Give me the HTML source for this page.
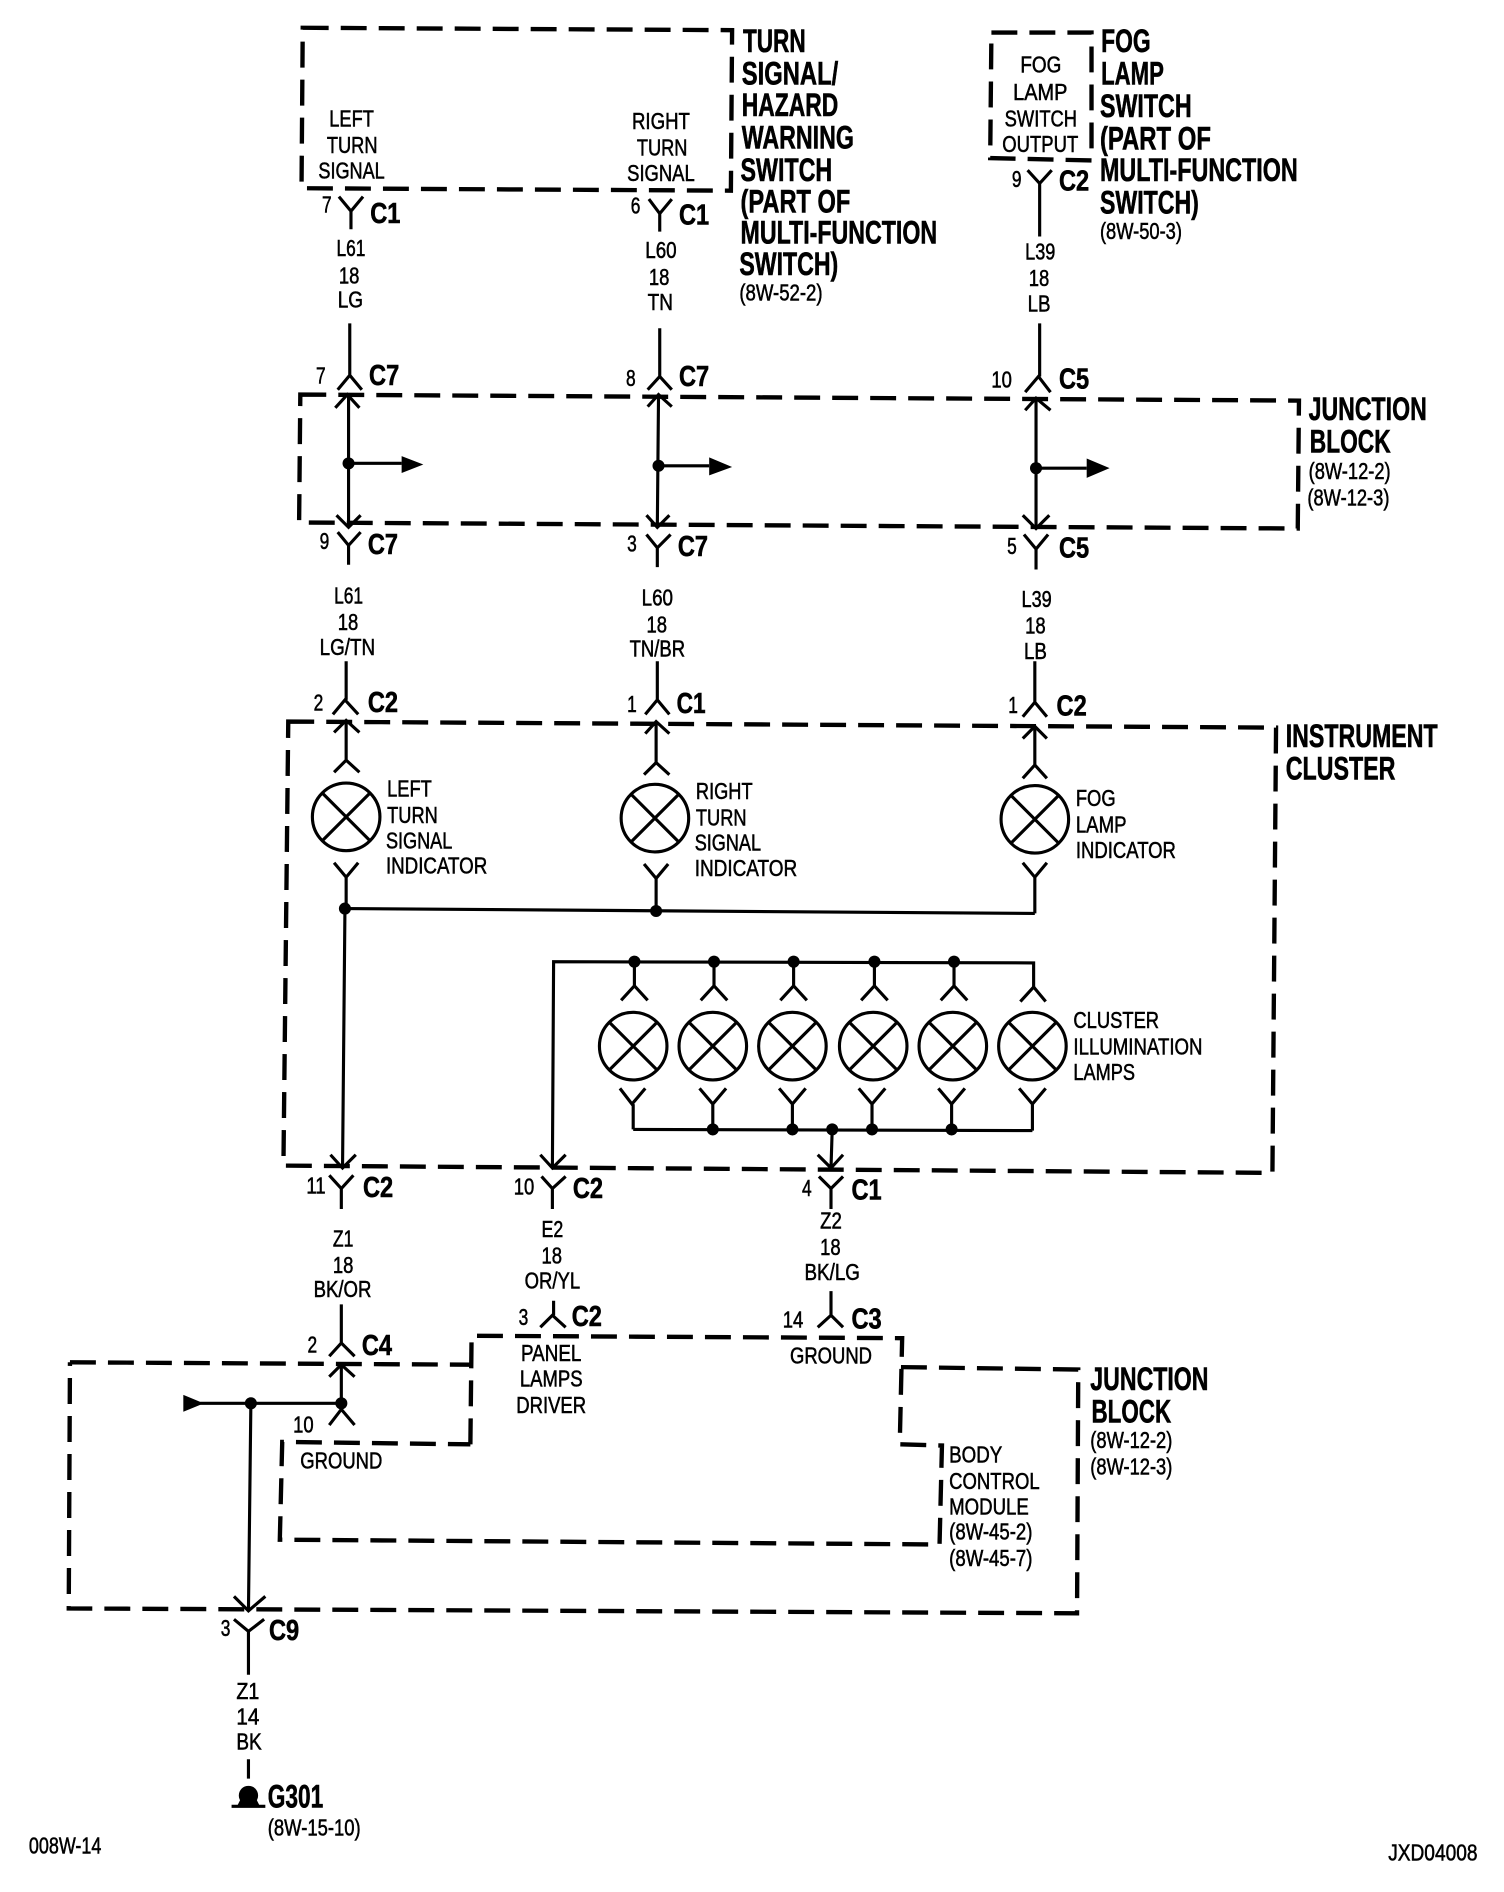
<!DOCTYPE html>
<html><head><meta charset="utf-8"><title>Wiring diagram</title>
<style>
html,body{margin:0;padding:0;background:#fff}
svg{display:block}
text{font-family:"Liberation Sans",sans-serif;fill:#000}
.s{font-size:19px;stroke:#000;stroke-width:.45px}
.b{font-size:27px;font-weight:700;stroke:#000;stroke-width:.5px}
.c{font-size:24px;font-weight:700;stroke:#000;stroke-width:.5px}
.d{fill:none;stroke:#000;stroke-width:3.6;stroke-dasharray:21.5 10}
.w{fill:none;stroke:#000;stroke-width:2.6}
</style></head><body>
<svg xmlns="http://www.w3.org/2000/svg" width="1504" height="1892" viewBox="-1 0 1247 1568" preserveAspectRatio="none">
<rect x="-1" y="0" width="1247" height="1568" fill="#fff"/>
<!-- dashed boxes -->
<path class="d" d="M250,23 L606,25 L605,158 L249,156 Z"/>
<path class="d" d="M821,27 L904,27 L904,133 L820,131 Z"/>
<path class="d" d="M248,327 L1076,332 L1075,438 L247,433 Z"/>
<path class="d" d="M238,598 L1057,603 L1054,972 L234,966 Z"/>
<path class="d" d="M57,1129 L389,1131"/>
<path class="d" d="M389,1197 L390,1107 L747,1109 L745,1197 L780,1198 L778,1280 L231,1276 L233,1195 L389,1197"/>
<path class="d" d="M746,1133 L893,1135 L892,1337 L56,1333 L57,1129"/>
<!-- wires -->
<g class="w">
<path d="M280,163 L290,175 L300,163 M290,175 V190 M289,268 V311 M279,323 L289,311 L299,323"/>
<path d="M277,338 L287,327 L297,338 M288,327 V437 M278,427 L288,437 L298,427 M288,384 H332"/>
<path d="M279,441 L288,452 L298,441 M288,452 V468 M286,548 V580 M275,592 L285,580 L296,592"/>
<path d="M276,607 L286,597 L297,607 M286,597 V630 M276,640 L286,630 L297,640"/>
<path d="M276,715 L286,727 L296,715 M286,727 V753 M285,753 L283,968 M273,957 L283,968 L294,957"/>
<path d="M272,974 L282,985 L292,974 M282,985 V1002 M282,1081 V1113 M272,1124 L282,1113 L293,1124"/>
<path d="M272,1141 L282,1131 L293,1141 M282,1131 V1168 M272,1181 L282,1168 L293,1181 M165,1163 H282 M207,1163 L205,1335 M193,1323 L205,1335 L219,1323"/>
<path d="M193,1342 L205,1352 L218,1342 M205,1352 V1388 M205,1458 V1474"/>
<path d="M537,165 L546,177 L556,165 M546,177 V192 M546,272 V312 M536,323 L546,312 L556,323"/>
<path d="M536,337 L545,327 L556,337 M545,327 L544,437 M535,427 L544,437 L554,427 M545,386 H587"/>
<path d="M535,443 L544,454 L555,443 M544,454 V470 M544,548 V580 M534,592 L544,580 L554,592"/>
<path d="M534,608 L543,598 L554,608 M543,598 V632 M533,642 L543,632 L554,642"/>
<path d="M533,716 L543,728 L553,716 M543,728 V755"/>
<path d="M851,141 L861,152 L871,141 M861,152 V196 M861,268 V312 M849,325 L860,312 L870,325"/>
<path d="M849,340 L858,330 L870,340 M858,330 V438 M847,427 L858,438 L869,427 M858,388 H900"/>
<path d="M848,443 L858,455 L868,443 M858,455 V472 M857,548 V582 M847,594 L857,582 L867,594"/>
<path d="M847,612 L857,602 L867,612 M857,602 V634 M847,645 L857,634 L867,645"/>
<path d="M847,715 L857,727 L867,715 M857,727 V757 M285,753 L857,757"/>
<path d="M856,818 V798 L458,797 L457,968 M447,957 L457,968 L468,957 M448,975 L457,985 L468,975 M457,985 V1002"/>
<path d="M525,797 V817 M514,829 L525,817 L536,829 M591,797 V817 M580,829 L591,817 L602,829 M657,797 V817 M646,829 L657,817 L668,829 M724,797 V817 M713,829 L724,817 L735,829 M790,797 V817 M779,829 L790,817 L801,829 M845,830 L856,818 L866,830"/>
<path d="M513,902 L523,915 L534,902 M524,915 V936 M579,902 L590,915 L601,902 M590,915 V936 M645,902 L656,915 L667,902 M656,915 V936 M711,902 L722,915 L733,902 M722,915 V936 M777,902 L788,915 L799,902 M788,915 V936 M844,902 L855,915 L866,902 M855,915 V937 M524,936 L855,937"/>
<path d="M689,936 L688,968 M677,957 L688,968 L698,957 M678,975 L688,985 L698,975 M688,985 V1002"/>
<path d="M458,1078 V1090 M447,1100 L457,1090 L468,1100 M688,1070 V1090 M677,1100 L688,1090 L698,1100"/>
<path d="M191,1497 H219"/>
</g>
<!-- lamps -->
<g class="w">
<circle cx="286" cy="677" r="28"/><path d="M266,657 L306,697 M306,657 L266,697"/>
<circle cx="542" cy="678" r="28"/><path d="M522,658 L562,698 M562,658 L522,698"/>
<circle cx="857" cy="679" r="28"/><path d="M837,659 L877,699 M877,659 L837,699"/>
<circle cx="524" cy="867" r="28"/><path d="M504,847 L544,887 M544,847 L504,887"/>
<circle cx="590" cy="867" r="28"/><path d="M570,847 L610,887 M610,847 L570,887"/>
<circle cx="656" cy="867" r="28"/><path d="M636,847 L676,887 M676,847 L636,887"/>
<circle cx="723" cy="867" r="28"/><path d="M703,847 L743,887 M743,847 L703,887"/>
<circle cx="789" cy="867" r="28"/><path d="M769,847 L809,887 M809,847 L769,887"/>
<circle cx="855" cy="867" r="28"/><path d="M835,847 L875,887 M875,847 L835,887"/>
</g>
<!-- dots and arrowheads -->
<g fill="#000">
<circle cx="288" cy="384" r="5"/><circle cx="545" cy="386" r="5"/><circle cx="858" cy="388" r="5"/>
<path d="M332,378 L350,385 L332,392 Z M587,379 L606,387 L587,394 Z M900,380 L919,388 L900,396 Z M151,1156 L168,1163 L151,1170 Z"/>
<circle cx="285" cy="753" r="5"/><circle cx="543" cy="755" r="5"/>
<circle cx="525" cy="797" r="5"/><circle cx="591" cy="797" r="5"/><circle cx="657" cy="797" r="5"/><circle cx="724" cy="797" r="5"/><circle cx="790" cy="797" r="5"/>
<circle cx="590" cy="936" r="5"/><circle cx="656" cy="936" r="5"/><circle cx="689" cy="936" r="5"/><circle cx="722" cy="936" r="5"/><circle cx="788" cy="936" r="5"/>
<circle cx="207" cy="1163" r="5"/><circle cx="282" cy="1163" r="5"/>
<circle cx="205" cy="1488" r="8"/><path d="M199,1490 H211 L214,1496 H196 Z"/>
</g>
<!-- headings -->
<g class="b">
<text x="615" y="43" textLength="52" lengthAdjust="spacingAndGlyphs">TURN</text>
<text x="614" y="70" textLength="80" lengthAdjust="spacingAndGlyphs">SIGNAL/</text>
<text x="614" y="96" textLength="80" lengthAdjust="spacingAndGlyphs">HAZARD</text>
<text x="614" y="123" textLength="93" lengthAdjust="spacingAndGlyphs">WARNING</text>
<text x="613" y="150" textLength="76" lengthAdjust="spacingAndGlyphs">SWITCH</text>
<text x="613" y="176" textLength="91" lengthAdjust="spacingAndGlyphs">(PART OF</text>
<text x="613" y="202" textLength="163" lengthAdjust="spacingAndGlyphs">MULTI-FUNCTION</text>
<text x="612" y="228" textLength="82" lengthAdjust="spacingAndGlyphs">SWITCH)</text>
<text x="912" y="43" textLength="41" lengthAdjust="spacingAndGlyphs">FOG</text>
<text x="912" y="70" textLength="52" lengthAdjust="spacingAndGlyphs">LAMP</text>
<text x="911" y="97" textLength="76" lengthAdjust="spacingAndGlyphs">SWITCH</text>
<text x="911" y="124" textLength="92" lengthAdjust="spacingAndGlyphs">(PART OF</text>
<text x="911" y="150" textLength="164" lengthAdjust="spacingAndGlyphs">MULTI-FUNCTION</text>
<text x="911" y="177" textLength="82" lengthAdjust="spacingAndGlyphs">SWITCH)</text>
<text x="1084" y="348" textLength="98" lengthAdjust="spacingAndGlyphs">JUNCTION</text>
<text x="1085" y="375" textLength="67" lengthAdjust="spacingAndGlyphs">BLOCK</text>
<text x="1065" y="619" textLength="126" lengthAdjust="spacingAndGlyphs">INSTRUMENT</text>
<text x="1065" y="646" textLength="91" lengthAdjust="spacingAndGlyphs">CLUSTER</text>
<text x="903" y="1152" textLength="98" lengthAdjust="spacingAndGlyphs">JUNCTION</text>
<text x="904" y="1179" textLength="66" lengthAdjust="spacingAndGlyphs">BLOCK</text>
<text x="221" y="1498" textLength="46" lengthAdjust="spacingAndGlyphs">G301</text>
</g>
<!-- connector ids -->
<g class="c">
<text x="306" y="185" textLength="25" lengthAdjust="spacingAndGlyphs">C1</text>
<text x="562" y="186" textLength="25" lengthAdjust="spacingAndGlyphs">C1</text>
<text x="877" y="158" textLength="25" lengthAdjust="spacingAndGlyphs">C2</text>
<text x="305" y="319" textLength="25" lengthAdjust="spacingAndGlyphs">C7</text>
<text x="562" y="320" textLength="25" lengthAdjust="spacingAndGlyphs">C7</text>
<text x="877" y="322" textLength="25" lengthAdjust="spacingAndGlyphs">C5</text>
<text x="304" y="459" textLength="25" lengthAdjust="spacingAndGlyphs">C7</text>
<text x="561" y="461" textLength="25" lengthAdjust="spacingAndGlyphs">C7</text>
<text x="877" y="462" textLength="25" lengthAdjust="spacingAndGlyphs">C5</text>
<text x="304" y="590" textLength="25" lengthAdjust="spacingAndGlyphs">C2</text>
<text x="560" y="591" textLength="24" lengthAdjust="spacingAndGlyphs">C1</text>
<text x="875" y="593" textLength="25" lengthAdjust="spacingAndGlyphs">C2</text>
<text x="300" y="992" textLength="25" lengthAdjust="spacingAndGlyphs">C2</text>
<text x="474" y="993" textLength="25" lengthAdjust="spacingAndGlyphs">C2</text>
<text x="705" y="994" textLength="25" lengthAdjust="spacingAndGlyphs">C1</text>
<text x="473" y="1099" textLength="25" lengthAdjust="spacingAndGlyphs">C2</text>
<text x="705" y="1101" textLength="25" lengthAdjust="spacingAndGlyphs">C3</text>
<text x="299" y="1123" textLength="25" lengthAdjust="spacingAndGlyphs">C4</text>
<text x="222" y="1359" textLength="25" lengthAdjust="spacingAndGlyphs">C9</text>
</g>
<!-- small labels -->
<g class="s">
<text x="272" y="105" textLength="37" lengthAdjust="spacingAndGlyphs">LEFT</text>
<text x="270" y="127" textLength="42" lengthAdjust="spacingAndGlyphs">TURN</text>
<text x="263" y="148" textLength="55" lengthAdjust="spacingAndGlyphs">SIGNAL</text>
<text x="523" y="107" textLength="48" lengthAdjust="spacingAndGlyphs">RIGHT</text>
<text x="527" y="129" textLength="42" lengthAdjust="spacingAndGlyphs">TURN</text>
<text x="519" y="150" textLength="56" lengthAdjust="spacingAndGlyphs">SIGNAL</text>
<text x="845" y="60" textLength="34" lengthAdjust="spacingAndGlyphs">FOG</text>
<text x="839" y="83" textLength="45" lengthAdjust="spacingAndGlyphs">LAMP</text>
<text x="832" y="105" textLength="60" lengthAdjust="spacingAndGlyphs">SWITCH</text>
<text x="830" y="126" textLength="63" lengthAdjust="spacingAndGlyphs">OUTPUT</text>
<text x="266" y="176" textLength="8" lengthAdjust="spacingAndGlyphs">7</text><text x="522" y="177" textLength="8" lengthAdjust="spacingAndGlyphs">6</text><text x="838" y="155" textLength="8" lengthAdjust="spacingAndGlyphs">9</text>
<text x="278" y="212" textLength="24" lengthAdjust="spacingAndGlyphs">L61</text>
<text x="280" y="235" textLength="17" lengthAdjust="spacingAndGlyphs">18</text>
<text x="279" y="255" textLength="21" lengthAdjust="spacingAndGlyphs">LG</text>
<text x="534" y="214" textLength="26" lengthAdjust="spacingAndGlyphs">L60</text>
<text x="537" y="236" textLength="17" lengthAdjust="spacingAndGlyphs">18</text>
<text x="536" y="257" textLength="21" lengthAdjust="spacingAndGlyphs">TN</text>
<text x="849" y="215" textLength="25" lengthAdjust="spacingAndGlyphs">L39</text>
<text x="852" y="237" textLength="17" lengthAdjust="spacingAndGlyphs">18</text>
<text x="851" y="258" textLength="19" lengthAdjust="spacingAndGlyphs">LB</text>
<text x="261" y="318" textLength="8" lengthAdjust="spacingAndGlyphs">7</text><text x="518" y="320" textLength="8" lengthAdjust="spacingAndGlyphs">8</text>
<text x="821" y="321" textLength="17" lengthAdjust="spacingAndGlyphs">10</text>
<text x="264" y="455" textLength="8" lengthAdjust="spacingAndGlyphs">9</text><text x="519" y="457" textLength="8" lengthAdjust="spacingAndGlyphs">3</text><text x="834" y="459" textLength="8" lengthAdjust="spacingAndGlyphs">5</text>
<text x="276" y="500" textLength="24" lengthAdjust="spacingAndGlyphs">L61</text>
<text x="279" y="522" textLength="17" lengthAdjust="spacingAndGlyphs">18</text>
<text x="264" y="543" textLength="46" lengthAdjust="spacingAndGlyphs">LG/TN</text>
<text x="531" y="502" textLength="26" lengthAdjust="spacingAndGlyphs">L60</text>
<text x="535" y="524" textLength="17" lengthAdjust="spacingAndGlyphs">18</text>
<text x="521" y="544" textLength="46" lengthAdjust="spacingAndGlyphs">TN/BR</text>
<text x="846" y="503" textLength="25" lengthAdjust="spacingAndGlyphs">L39</text>
<text x="849" y="525" textLength="17" lengthAdjust="spacingAndGlyphs">18</text>
<text x="848" y="546" textLength="19" lengthAdjust="spacingAndGlyphs">LB</text>
<text x="259" y="589" textLength="8" lengthAdjust="spacingAndGlyphs">2</text><text x="519" y="590" textLength="8" lengthAdjust="spacingAndGlyphs">1</text><text x="835" y="591" textLength="8" lengthAdjust="spacingAndGlyphs">1</text>
<text x="320" y="660" textLength="37" lengthAdjust="spacingAndGlyphs">LEFT</text>
<text x="320" y="682" textLength="42" lengthAdjust="spacingAndGlyphs">TURN</text>
<text x="319" y="703" textLength="55" lengthAdjust="spacingAndGlyphs">SIGNAL</text>
<text x="319" y="724" textLength="84" lengthAdjust="spacingAndGlyphs">INDICATOR</text>
<text x="576" y="662" textLength="47" lengthAdjust="spacingAndGlyphs">RIGHT</text>
<text x="576" y="684" textLength="42" lengthAdjust="spacingAndGlyphs">TURN</text>
<text x="575" y="705" textLength="55" lengthAdjust="spacingAndGlyphs">SIGNAL</text>
<text x="575" y="726" textLength="85" lengthAdjust="spacingAndGlyphs">INDICATOR</text>
<text x="891" y="668" textLength="33" lengthAdjust="spacingAndGlyphs">FOG</text>
<text x="891" y="690" textLength="42" lengthAdjust="spacingAndGlyphs">LAMP</text>
<text x="891" y="711" textLength="83" lengthAdjust="spacingAndGlyphs">INDICATOR</text>
<text x="889" y="852" textLength="71" lengthAdjust="spacingAndGlyphs">CLUSTER</text>
<text x="889" y="874" textLength="107" lengthAdjust="spacingAndGlyphs">ILLUMINATION</text>
<text x="889" y="895" textLength="51" lengthAdjust="spacingAndGlyphs">LAMPS</text>
<text x="253" y="989" textLength="16" lengthAdjust="spacingAndGlyphs">11</text>
<text x="425" y="990" textLength="17" lengthAdjust="spacingAndGlyphs">10</text>
<text x="664" y="991" textLength="8" lengthAdjust="spacingAndGlyphs">4</text>
<text x="275" y="1033" textLength="17" lengthAdjust="spacingAndGlyphs">Z1</text>
<text x="275" y="1055" textLength="17" lengthAdjust="spacingAndGlyphs">18</text>
<text x="259" y="1075" textLength="48" lengthAdjust="spacingAndGlyphs">BK/OR</text>
<text x="448" y="1025" textLength="18" lengthAdjust="spacingAndGlyphs">E2</text>
<text x="448" y="1047" textLength="17" lengthAdjust="spacingAndGlyphs">18</text>
<text x="434" y="1068" textLength="46" lengthAdjust="spacingAndGlyphs">OR/YL</text>
<text x="679" y="1018" textLength="18" lengthAdjust="spacingAndGlyphs">Z2</text>
<text x="679" y="1040" textLength="17" lengthAdjust="spacingAndGlyphs">18</text>
<text x="666" y="1061" textLength="46" lengthAdjust="spacingAndGlyphs">BK/LG</text>
<text x="429" y="1098" textLength="8" lengthAdjust="spacingAndGlyphs">3</text>
<text x="648" y="1100" textLength="17" lengthAdjust="spacingAndGlyphs">14</text>
<text x="254" y="1121" textLength="8" lengthAdjust="spacingAndGlyphs">2</text>
<text x="242" y="1187" textLength="17" lengthAdjust="spacingAndGlyphs">10</text>
<text x="248" y="1217" textLength="68" lengthAdjust="spacingAndGlyphs">GROUND</text>
<text x="431" y="1128" textLength="50" lengthAdjust="spacingAndGlyphs">PANEL</text>
<text x="430" y="1149" textLength="52" lengthAdjust="spacingAndGlyphs">LAMPS</text>
<text x="427" y="1171" textLength="58" lengthAdjust="spacingAndGlyphs">DRIVER</text>
<text x="654" y="1130" textLength="68" lengthAdjust="spacingAndGlyphs">GROUND</text>
<text x="786" y="1212" textLength="44" lengthAdjust="spacingAndGlyphs">BODY</text>
<text x="786" y="1234" textLength="75" lengthAdjust="spacingAndGlyphs">CONTROL</text>
<text x="786" y="1255" textLength="66" lengthAdjust="spacingAndGlyphs">MODULE</text>
<text x="786" y="1276" textLength="69" lengthAdjust="spacingAndGlyphs">(8W-45-2)</text>
<text x="786" y="1298" textLength="69" lengthAdjust="spacingAndGlyphs">(8W-45-7)</text>
<text x="612" y="249" textLength="69" lengthAdjust="spacingAndGlyphs">(8W-52-2)</text>
<text x="911" y="198" textLength="68" lengthAdjust="spacingAndGlyphs">(8W-50-3)</text>
<text x="1084" y="397" textLength="68" lengthAdjust="spacingAndGlyphs">(8W-12-2)</text>
<text x="1083" y="419" textLength="68" lengthAdjust="spacingAndGlyphs">(8W-12-3)</text>
<text x="903" y="1200" textLength="68" lengthAdjust="spacingAndGlyphs">(8W-12-2)</text>
<text x="903" y="1222" textLength="68" lengthAdjust="spacingAndGlyphs">(8W-12-3)</text>
<text x="182" y="1356" textLength="8" lengthAdjust="spacingAndGlyphs">3</text>
<text x="195" y="1408" textLength="19" lengthAdjust="spacingAndGlyphs">Z1</text>
<text x="195" y="1429" textLength="19" lengthAdjust="spacingAndGlyphs">14</text>
<text x="195" y="1450" textLength="21" lengthAdjust="spacingAndGlyphs">BK</text>
<text x="221" y="1521" textLength="77" lengthAdjust="spacingAndGlyphs">(8W-15-10)</text>
<text x="23" y="1536" textLength="60" lengthAdjust="spacingAndGlyphs">008W-14</text>
<text x="1150" y="1542" textLength="74" lengthAdjust="spacingAndGlyphs">JXD04008</text>
</g>
</svg>
</body></html>
